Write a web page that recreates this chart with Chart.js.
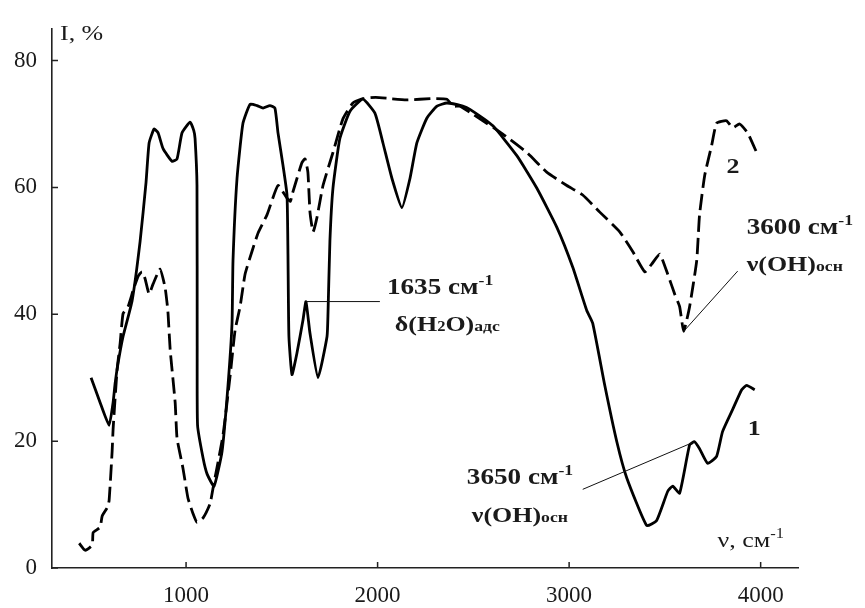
<!DOCTYPE html>
<html>
<head>
<meta charset="utf-8">
<title>ИК-спектр</title>
<script src="https://cdn.jsdelivr.net/npm/chart.js@4.4.1/dist/chart.umd.min.js"></script>
<style>
    body { margin: 0; background: #fff; }
    #wrap { width: 865px; height: 608px; }
</style>
</head>
<body>
<div id="wrap"><canvas id="spectrum" width="865" height="608"></canvas></div>
<script>
// curve 1 (solid)
var wave1 = [504, 551, 598, 619, 630, 645, 671, 718, 760, 791, 807, 833, 854, 880, 927, 953, 979, 1021, 1040, 1047,
    1057, 1058, 1060, 1089, 1110, 1146, 1188, 1219, 1240, 1245, 1266, 1297, 1334, 1370, 1402, 1438, 1464, 1480, 1506, 1527,
    1532, 1537, 1553, 1579, 1610, 1626, 1647, 1689, 1736, 1741, 1751, 1767, 1803, 1856, 1923, 1986, 2028, 2075, 2127, 2169,
    2205, 2257, 2310, 2362, 2445, 2482, 2602, 2727, 2831, 2936, 3019, 3092, 3123, 3186, 3249, 3301, 3405, 3457, 3515, 3541,
    3577, 3629, 3655, 3681, 3723, 3770, 3801, 3854, 3901, 3927, 3969];
var trans1 = [30.0, 26.1, 22.5, 26.1, 29.2, 32.3, 36.5, 42.1, 51.5, 60.8, 67.0, 69.2, 68.6, 66.1, 64.1, 64.5, 68.6, 70.3, 69.0, 67.7,
    60.3, 35.0, 22.5, 17.3, 14.8, 12.9, 18.4, 28.8, 38.6, 48.4, 61.4, 70.1, 73.1, 72.9, 72.5, 72.9, 72.5, 68.6, 63.5, 58.8,
    49.5, 36.5, 30.5, 33.9, 39.0, 42.0, 37.0, 30.0, 36.5, 40.1, 51.5, 59.9, 67.7, 72.0, 73.9, 71.7, 67.0, 61.4, 56.8, 61.4,
    67.0, 70.9, 72.8, 73.3, 72.8, 72.3, 69.7, 65.0, 59.9, 53.7, 47.4, 40.6, 38.6, 28.8, 19.9, 14.2, 6.7, 7.5, 12.1, 12.9,
    11.8, 19.4, 19.9, 18.8, 16.5, 17.6, 21.5, 25.0, 28.1, 28.8, 28.1];

// curve 2 (dashed)
var wave2 = [442, 473, 510, 515, 551, 562, 588, 598, 614, 619, 640, 656, 671, 697, 723, 750, 770, 786, 807, 828,
    864, 890, 901, 906, 917, 943, 953, 984, 1010, 1036, 1057, 1089, 1125, 1141, 1193, 1230, 1256, 1282, 1308, 1344,
    1376, 1423, 1480, 1527, 1545, 1553, 1579, 1605, 1621, 1636, 1647, 1663, 1683, 1715, 1767, 1819, 1871, 1923, 1990, 2064,
    2150, 2289, 2362, 2393, 2429, 2500, 2654, 2779, 2883, 2988, 3071, 3160, 3264, 3332, 3395, 3431, 3473, 3515, 3551, 3577,
    3598, 3629, 3666, 3681, 3708, 3744, 3770, 3822, 3854, 3890, 3932, 3979];
var trans2 = [3.9, 2.8, 3.6, 5.6, 6.4, 8.2, 9.5, 10.6, 18.4, 21.9, 31.3, 35.5, 40.1, 41.2, 43.7, 46.0, 46.7, 45.6, 43.2, 44.8,
    47.1, 44.3, 41.7, 40.1, 34.4, 26.1, 20.4, 15.7, 11.0, 8.6, 7.2, 7.9, 10.1, 12.6, 21.0, 30.3, 37.5, 41.2, 46.3, 49.9,
    52.8, 55.7, 60.3, 58.3, 57.8, 58.8, 61.4, 63.9, 64.5, 62.4, 56.1, 53.0, 55.2, 60.3, 65.5, 70.8, 73.3, 74.0, 74.2, 74.0,
    73.8, 74.0, 73.9, 72.8, 72.8, 71.5, 68.4, 65.5, 62.4, 60.3, 58.8, 56.1, 53.0, 49.9, 46.7, 47.9, 49.5, 46.3, 43.2, 41.2,
    37.3, 41.2, 48.4, 55.7, 61.9, 66.6, 70.1, 70.5, 69.4, 70.0, 68.6, 65.5];

var xTicks = [1000, 2000, 3000, 4000];
var yTicks = [0, 20, 40, 60, 80];

function toPoints(xs, ys) {
    var pts = [];
    for (var i = 0; i < xs.length; i++) {
        pts.push({x: xs[i], y: ys[i]});
    }
    return pts;
}

var SERIF = '"Liberation Serif", "DejaVu Serif", serif';
var STRETCH = 1.18;

// draws a row of text pieces (normal / sup / sub), stretched a bit like the scan
function drawRich(ctx, x, y, parts, bold) {
    ctx.save();
    ctx.translate(x, y);
    ctx.scale(STRETCH, 1);
    ctx.textBaseline = 'alphabetic';
    ctx.textAlign = 'left';
    var cx = 0;
    parts.forEach(function (p) {
        ctx.font = (bold ? 'bold ' : '') + p.size + 'px ' + SERIF;
        ctx.fillText(p.t, cx, p.dy || 0);
        cx += ctx.measureText(p.t).width;
    });
    ctx.restore();
}

var notes = {
    id: 'notes',
    afterDraw: function (chart) {
        var ctx = chart.ctx;
        var xs = chart.scales.x;
        var ys = chart.scales.y;
        var area = chart.chartArea;
        function X(v) { return xs.getPixelForValue(v); }
        function Y(v) { return ys.getPixelForValue(v); }

        ctx.save();
        ctx.strokeStyle = '#222';
        ctx.lineWidth = 1.5;
        // inner tick marks
        ctx.beginPath();
        xs.ticks.forEach(function (t) {
            var px = X(t.value);
            ctx.moveTo(px, area.bottom);
            ctx.lineTo(px, area.bottom - 6);
        });
        ys.ticks.forEach(function (t) {
            var py = Y(t.value);
            ctx.moveTo(area.left, py);
            ctx.lineTo(area.left + 6, py);
        });
        ctx.stroke();

        // leader lines
        ctx.lineWidth = 1;
        ctx.strokeStyle = '#111';
        ctx.beginPath();
        ctx.moveTo(X(1626), Y(42));
        ctx.lineTo(X(2012), Y(42));
        ctx.moveTo(X(3598), Y(37.3));
        ctx.lineTo(X(3880), Y(46.8));
        ctx.moveTo(X(3071), Y(12.4));
        ctx.lineTo(X(3655), Y(19.9));
        ctx.stroke();

        ctx.fillStyle = '#1a1a1a';
        // axis titles
        drawRich(ctx, area.left + 8, area.top + 11, [{t: 'I, %', size: 22}], false);
        drawRich(ctx, X(3775), Y(3.3), [{t: 'ν, см', size: 22}, {t: '-1', size: 14, dy: -9}], false);

        // band labels
        drawRich(ctx, X(2049), Y(43.2), [{t: '1635 см', size: 23}, {t: '-1', size: 15, dy: -9}], true);
        drawRich(ctx, X(2090), Y(37.3), [{t: 'δ(H', size: 22}, {t: '2', size: 14}, {t: 'O)', size: 22}, {t: 'адс', size: 15}], true);
        drawRich(ctx, X(3927), Y(52.6), [{t: '3600 см', size: 23}, {t: '-1', size: 15, dy: -9}], true);
        drawRich(ctx, X(3927), Y(46.8), [{t: 'ν(OH)', size: 22}, {t: 'осн', size: 15}], true);
        drawRich(ctx, X(2466), Y(13.2), [{t: '3650 см', size: 23}, {t: '-1', size: 15, dy: -9}], true);
        drawRich(ctx, X(2492), Y(7.2), [{t: 'ν(OH)', size: 22}, {t: 'осн', size: 15}], true);

        // curve numbers
        drawRich(ctx, X(3932), Y(21.0), [{t: '1', size: 22}], true);
        drawRich(ctx, X(3822), Y(62.2), [{t: '2', size: 22}], true);
        ctx.restore();
    }
};

var spectrumChart = new Chart(document.getElementById('spectrum').getContext('2d'), {
    type: 'line',
    data: {
        datasets: [{
            label: '1',
            data: toPoints(wave1, trans1),
            borderColor: '#000',
            borderWidth: 2.8,
            pointRadius: 0,
            tension: 0.15,
            fill: false
        }, {
            label: '2',
            data: toPoints(wave2, trans2),
            borderColor: '#000',
            borderWidth: 2.8,
            borderDash: [16, 6],
            pointRadius: 0,
            tension: 0.15,
            fill: false
        }]
    },
    options: {
        responsive: false,
        animation: false,
        layout: { padding: { left: 0, top: 22, right: 67, bottom: 0 } },
        plugins: {
            legend: { display: false },
            tooltip: { enabled: false }
        },
        scales: {
            x: {
                type: 'linear',
                min: 300,
                max: 4195,
                grid: { display: false, drawTicks: false },
                border: { display: true, color: '#222', width: 1.6 },
                afterBuildTicks: function (scale) {
                    scale.ticks = xTicks.map(function (v) { return {value: v}; });
                },
                afterFit: function (scale) { scale.height = 40; },
                ticks: {
                    padding: 14,
                    maxRotation: 0,
                    color: '#1a1a1a',
                    font: { family: SERIF, size: 23 },
                    callback: function (v) { return String(v); }
                }
            },
            y: {
                type: 'linear',
                min: 0,
                max: 85,
                grid: { display: false, drawTicks: false },
                border: { display: true, color: '#222', width: 1.6 },
                afterBuildTicks: function (scale) {
                    scale.ticks = yTicks.map(function (v) { return {value: v}; });
                },
                afterFit: function (scale) { scale.width = 52; },
                ticks: {
                    padding: 15,
                    color: '#1a1a1a',
                    font: { family: SERIF, size: 23 },
                    callback: function (v) { return String(v); }
                }
            }
        }
    },
    plugins: [notes]
});
</script>
</body>
</html>
